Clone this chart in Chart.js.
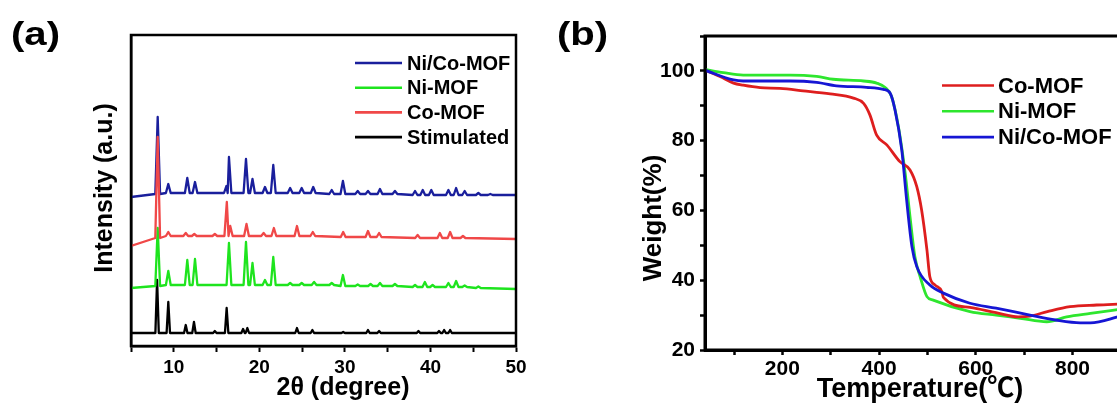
<!DOCTYPE html>
<html>
<head>
<meta charset="utf-8">
<title>XRD and TGA of Co-MOF, Ni-MOF and Ni/Co-MOF</title>
<script src="https://cdn.jsdelivr.net/npm/chart.js@4.4.1/dist/chart.umd.min.js"></script>
<style>
  html, body { margin: 0; padding: 0; background: #fff; }
  body { width: 1117px; height: 406px; overflow: hidden; position: relative; }
  canvas { position: absolute; top: 0; }
  #xrd { left: 0; }
  #tga { left: 555px; }
</style>
</head>
<body>
<canvas id="xrd" width="555" height="406"></canvas>
<canvas id="tga" width="620" height="406"></canvas>
<script>
// ---- (a) XRD: peak positions (2θ), apex intensity and baseline under each peak (a.u., stacked) ----
const xrdRange = [5, 50];
const xrdTicks = [10, 20, 30, 40, 50];

const niCoTheta = [8.12, 9.36, 11.58, 12.48, 16.15, 16.45, 18.44, 19.2, 20.66, 21.63, 23.6, 24.95, 26.3, 28.46, 29.77, 31.5, 32.7, 34.1, 35.85, 38.2, 39.1, 40.1, 42.1, 43.0, 44.0, 45.6, 47.0];
const niCoTop   = [229, 162, 168, 164, 160, 189, 187, 167, 159, 181, 158, 158, 159, 156, 165, 155, 155, 157, 155, 155, 156, 156, 156, 158, 155, 153, 152];
const niCoFoot  = [152, 153, 153, 153, 153, 153, 153, 153, 153, 153, 153, 153, 153, 152, 152, 152, 152, 152, 152, 151, 151, 151, 151, 151, 151, 151, 151];
const niCoEnds  = [149, 151];

const niTheta = [8.12, 9.36, 11.58, 12.48, 16.45, 18.44, 19.2, 20.66, 21.63, 23.6, 24.95, 26.4, 28.46, 29.77, 31.5, 33.0, 34.1, 35.85, 38.2, 39.35, 40.25, 42.1, 43.0, 44.0, 45.6];
const niTop   = [118, 75, 86, 87, 103, 104, 83, 66, 89, 63, 63, 64, 63, 71, 61.5, 62, 63, 62, 61, 64, 61, 63, 65, 60.5, 59.5];
const niFoot  = [60, 61, 61, 61, 61, 61, 61, 61, 61, 61, 61, 61, 61, 60, 60, 60, 60, 60, 59, 59, 59, 59, 59, 59, 58];
const niEnds  = [58, 57];

const coTheta = [8.12, 9.36, 11.4, 12.4, 14.8, 16.2, 16.6, 18.5, 20.5, 21.7, 24.4, 26.25, 29.8, 32.7, 34.0, 38.5, 41.1, 42.3, 43.8];
const coTop   = [209, 114, 113, 112, 112, 144, 120, 122, 113, 118, 120, 114, 114, 115, 113, 111, 113, 114, 110];
const coFoot  = [108, 110, 110, 110, 110, 110, 110, 110, 110, 110, 110, 110, 109, 109, 109, 108, 108, 108, 108];
const coEnds  = [100, 107];

const simTheta = [8.05, 9.36, 11.4, 12.36, 14.8, 16.18, 18.1, 18.6, 24.4, 26.2, 29.8, 32.7, 34.0, 38.6, 41.0, 41.6, 42.3];
const simTop   = [66, 44, 21, 24, 15, 38, 17, 18, 18, 16, 14, 16, 15, 15, 15, 16, 16];
const simFoot  = 13;
const simEnds  = [13, 13];

// ---- (b) TGA: temperature (°C) and weight (%) ----
const tgaRange      = [40, 950];
const tgaXTickMarks = [100, 200, 300, 400, 500, 600, 700, 800, 900];
const tgaXTicks     = [200, 400, 600, 800];
const tgaYTicks     = [20, 40, 60, 80, 100];

const coTemp   = [40, 71, 99, 119, 154, 195, 243, 299, 347, 368, 381, 395, 416, 443, 464, 478, 488, 499, 505, 516, 530, 533, 588, 642, 688, 712, 748, 795, 850, 900];
const coWeight = [100.2, 98.4, 96.5, 95.9, 95.2, 95.0, 94.3, 93.4, 92.2, 90.7, 87.4, 81.6, 78.8, 74.0, 71.6, 66.8, 60.1, 48.7, 41.0, 38.6, 36.7, 35.1, 32.2, 30.7, 29.5, 29.7, 31.0, 32.4, 32.9, 33.2];

const niTemp   = [40, 78, 119, 216, 271, 305, 368, 395, 412, 426, 440, 454, 464, 474, 485, 499, 512, 588, 642, 692, 747, 788, 837, 900];
const niWeight = [100.4, 99.5, 98.8, 98.8, 98.4, 97.6, 97.1, 96.5, 95.3, 92.6, 84.0, 70.7, 58.2, 46.8, 41.0, 35.3, 34.3, 31.0, 30.0, 29.1, 28.1, 29.5, 30.5, 31.7];

const niCoTemp   = [40, 99, 119, 216, 271, 312, 374, 409, 423, 433, 447, 457, 468, 478, 505, 533, 588, 642, 712, 765, 816, 837, 900];
const niCoWeight = [100.2, 97.4, 97.1, 97.1, 96.7, 95.7, 95.3, 94.7, 93.6, 88.8, 77.3, 63.0, 49.6, 43.9, 38.6, 36.3, 33.4, 32.0, 30.0, 28.6, 27.8, 27.8, 29.7];

const FONT = '"Liberation Sans", Arial, "Noto Sans CJK SC", sans-serif';
Chart.defaults.font.family = FONT;
Chart.defaults.font.weight = 'bold';
Chart.defaults.color = '#000';

// Each peak becomes foot - apex - foot; feet are pulled in when peaks sit close together
function xrdPoints(theta, tops, feet, ends, halfWidth) {
  const pts = [{ x: xrdRange[0], y: ends[0] }];
  theta.forEach((p, i) => {
    const foot = Array.isArray(feet) ? feet[i] : feet;
    const wl = i > 0 ? Math.min(halfWidth, (p - theta[i - 1]) / 2) : halfWidth;
    const wr = i < theta.length - 1 ? Math.min(halfWidth, (theta[i + 1] - p) / 2) : halfWidth;
    pts.push({ x: p - wl, y: foot }, { x: p, y: tops[i] }, { x: p + wr, y: foot });
  });
  pts.push({ x: xrdRange[1], y: ends[1] });
  return pts;
}

function pairs(xs, ys) {
  return xs.map((x, i) => ({ x: x, y: ys[i] }));
}

// frame, panel tag, axis titles and the in-plot legend
function decor(cfg) {
  return {
    id: 'decor',
    afterDraw(chart) {
      const { ctx, chartArea: a } = chart;
      ctx.save();
      ctx.strokeStyle = '#000';
      ctx.lineWidth = cfg.frame;
      ctx.strokeRect(a.left, a.top, a.right - a.left, a.bottom - a.top);

      ctx.fillStyle = '#000';
      ctx.save();
      ctx.translate(cfg.tag.x, cfg.tag.y);
      ctx.scale(1.18, 1);
      ctx.font = 'bold 34px ' + FONT;
      ctx.fillText(cfg.tag.text, 0, 0);
      ctx.restore();

      ctx.textAlign = 'center';
      ctx.font = 'bold ' + cfg.xTitle.size + 'px ' + FONT;
      ctx.fillText(cfg.xTitle.text, cfg.xTitle.x, cfg.xTitle.y);
      ctx.save();
      ctx.translate(cfg.yTitle.x, cfg.yTitle.y);
      ctx.rotate(-Math.PI / 2);
      ctx.font = 'bold ' + cfg.yTitle.size + 'px ' + FONT;
      ctx.fillText(cfg.yTitle.text, 0, 0);
      ctx.restore();

      const L = cfg.legend;
      ctx.textAlign = 'left';
      ctx.textBaseline = 'middle';
      ctx.font = 'bold ' + L.size + 'px ' + FONT;
      ctx.lineWidth = 2.6;
      L.order.forEach((di, row) => {
        const ds = chart.data.datasets[di];
        const y = L.y + row * L.gap;
        ctx.strokeStyle = ds.borderColor;
        ctx.beginPath();
        ctx.moveTo(L.x, y);
        ctx.lineTo(L.x + L.len, y);
        ctx.stroke();
        ctx.fillText(ds.label, L.x + L.len + L.pad, y + 1);
      });
      ctx.restore();
    }
  };
}

function axisStyle(tickLen, tickWidth, borderWidth) {
  return {
    border: { display: true, color: '#000', width: borderWidth },
    grid: { drawOnChartArea: false, tickLength: tickLen, tickColor: '#000', tickWidth: tickWidth }
  };
}

// (a) XRD patterns
new Chart(document.getElementById('xrd'), {
  type: 'line',
  data: {
    datasets: [
      { label: 'Co-MOF', data: xrdPoints(coTheta, coTop, coFoot, coEnds, 0.28), borderColor: '#f04848' },
      { label: 'Ni-MOF', data: xrdPoints(niTheta, niTop, niFoot, niEnds, 0.28), borderColor: '#1ee41e' },
      { label: 'Stimulated', data: xrdPoints(simTheta, simTop, simFoot, simEnds, 0.2), borderColor: '#000000' },
      { label: 'Ni/Co-MOF', data: xrdPoints(niCoTheta, niCoTop, niCoFoot, niCoEnds, 0.28), borderColor: '#1a1f9c' }
    ]
  },
  options: {
    responsive: false,
    animation: false,
    devicePixelRatio: 1,
    events: [],
    layout: { padding: { left: 0, top: 35, right: 39, bottom: 0 } },
    elements: {
      point: { radius: 0 },
      line: { borderWidth: 2.3, tension: 0, borderJoinStyle: 'round' }
    },
    plugins: { legend: { display: false }, tooltip: { enabled: false } },
    scales: {
      x: {
        type: 'linear',
        min: xrdRange[0],
        max: xrdRange[1],
        afterFit(scale) { scale.height = 60; },
        ...axisStyle(6, 2, 2.5),
        ticks: {
          stepSize: 5,
          autoSkip: false,
          maxRotation: 0,
          padding: 4,
          font: { size: 19, weight: 'bold' },
          callback: v => (xrdTicks.includes(v) ? v : '')
        }
      },
      y: {
        min: 0,
        max: 311,
        afterFit(scale) { scale.width = 131; },
        border: { display: true, color: '#000', width: 2.5 },
        grid: { display: false },
        ticks: { display: false }
      }
    }
  },
  plugins: [decor({
    frame: 2.5,
    tag: { text: '(a)', x: 11, y: 45 },
    xTitle: { text: '2θ (degree)', x: 343, y: 395, size: 25 },
    yTitle: { text: 'Intensity (a.u.)', x: 112, y: 188, size: 25 },
    legend: { order: [3, 1, 0, 2], x: 355, y: 63, gap: 24.7, len: 47, pad: 5, size: 20 }
  })]
});

// (b) TGA curves
new Chart(document.getElementById('tga'), {
  type: 'line',
  data: {
    datasets: [
      { label: 'Ni/Co-MOF', data: pairs(niCoTemp, niCoWeight), borderColor: '#1616d4' },
      { label: 'Co-MOF', data: pairs(coTemp, coWeight), borderColor: '#de1e1e' },
      { label: 'Ni-MOF', data: pairs(niTemp, niWeight), borderColor: '#2ee62e' }
    ]
  },
  options: {
    responsive: false,
    animation: false,
    devicePixelRatio: 1,
    events: [],
    layout: { padding: { left: 0, top: 36, right: 30, bottom: 0 } },
    elements: {
      point: { radius: 0 },
      line: { borderWidth: 2.8, cubicInterpolationMode: 'monotone' }
    },
    plugins: { legend: { display: false }, tooltip: { enabled: false } },
    scales: {
      x: {
        type: 'linear',
        min: tgaRange[0],
        max: tgaRange[1],
        afterFit(scale) { scale.height = 56; },
        afterBuildTicks(scale) {
          scale.ticks = tgaXTickMarks.map(v => ({ value: v }));
        },
        ...axisStyle(5, 2.5, 3),
        ticks: {
          autoSkip: false,
          maxRotation: 0,
          padding: 2,
          font: { size: 21, weight: 'bold' },
          callback: v => (tgaXTicks.includes(v) ? v : '')
        }
      },
      y: {
        min: 20,
        max: 110,
        afterFit(scale) { scale.width = 150; },
        ...axisStyle(5, 2.5, 3),
        ticks: {
          stepSize: 10,
          autoSkip: false,
          padding: 5,
          font: { size: 21, weight: 'bold' },
          callback: v => (tgaYTicks.includes(v) ? v : '')
        }
      }
    }
  },
  plugins: [decor({
    frame: 3,
    tag: { text: '(b)', x: 2, y: 45 },
    xTitle: { text: 'Temperature(℃)', x: 365, y: 397, size: 27 },
    yTitle: { text: 'Weight(%)', x: 106, y: 218, size: 26 },
    legend: { order: [1, 2, 0], x: 387, y: 85.5, gap: 25.8, len: 52, pad: 4, size: 22 }
  })]
});
</script>
</body>
</html>
